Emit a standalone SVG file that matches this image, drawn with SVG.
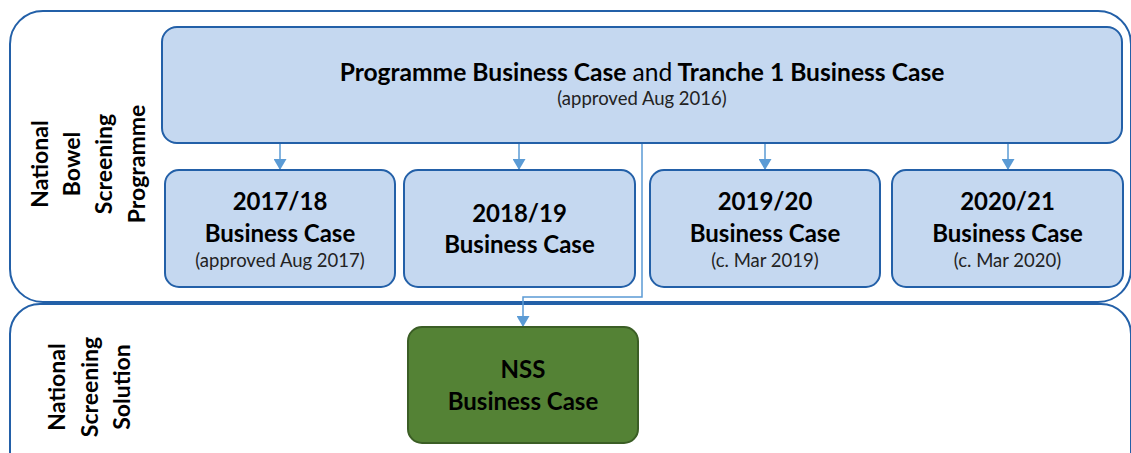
<svg xmlns="http://www.w3.org/2000/svg" width="1131" height="453" viewBox="0 0 1131 453">
  <style>
    .lane { fill: #ffffff; stroke: #2360a8; stroke-width: 2; }
    .box { fill: #c5d8f0; stroke: #2360a8; stroke-width: 2; }
    .nss { fill: #548235; stroke: #3b5e25; stroke-width: 2; }
    .conn { fill: none; stroke: #5b9bd5; stroke-width: 1.5; }
    text { font-family: Lato, "Open Sans", "Liberation Sans", sans-serif; fill: #000000; text-anchor: middle; }
    .big { font-size: 24px; font-weight: bold; }
    .title { font-size: 24.6px; font-weight: bold; }
    .small { font-size: 18.5px; fill: #222222; }
    .side { font-size: 23px; font-weight: bold; }
  </style>
  <defs>
    <marker id="arrow" viewBox="0 0 11 13" refX="11" refY="6.5" markerWidth="11" markerHeight="13" markerUnits="userSpaceOnUse" orient="auto">
      <path d="M0,0 L11,6.5 L0,13 Z" fill="#5b9bd5"/>
    </marker>
  </defs>

  <!-- swimlanes -->
  <g id="lane-nbsp">
    <rect class="lane" x="10" y="11" width="1121" height="291" rx="33" ry="33"/>
    <text class="side" transform="translate(48,164) rotate(-90)">National</text>
    <text class="side" transform="translate(80,164) rotate(-90)">Bowel</text>
    <text class="side" transform="translate(112,164) rotate(-90)">Screening</text>
    <text class="side" transform="translate(145,164) rotate(-90)">Programme</text>
  </g>
  <g id="lane-nss">
    <rect class="lane" x="10" y="304" width="1121" height="200" rx="30" ry="30"/>
    <text class="side" transform="translate(65,387) rotate(-90)">National</text>
    <text class="side" transform="translate(98,387) rotate(-90)">Screening</text>
    <text class="side" transform="translate(130,387) rotate(-90)">Solution</text>
  </g>

  <!-- connectors -->
  <g id="connectors">
    <line class="conn" x1="280" y1="143" x2="280" y2="170" marker-end="url(#arrow)"/>
    <line class="conn" x1="519" y1="143" x2="519" y2="170" marker-end="url(#arrow)"/>
    <line class="conn" x1="765" y1="143" x2="765" y2="170" marker-end="url(#arrow)"/>
    <line class="conn" x1="1008" y1="143" x2="1008" y2="170" marker-end="url(#arrow)"/>
    <polyline class="conn" points="642,143 642,297 523,297 523,327" marker-end="url(#arrow)"/>
  </g>

  <!-- programme business case -->
  <g id="node-programme">
    <rect class="box" x="162" y="27" width="960" height="116" rx="15" ry="15"/>
    <text x="642" y="81" class="title">Programme Business Case <tspan font-weight="normal">and</tspan> Tranche 1 Business Case</text>
    <text x="642" y="105" class="small">(approved Aug 2016)</text>
  </g>

  <!-- annual business cases -->
  <g id="node-2017">
    <rect class="box" x="165" y="170" width="230" height="117" rx="14" ry="14"/>
    <text x="280" y="210" class="big">2017/18</text>
    <text x="280" y="242" class="big">Business Case</text>
    <text x="280" y="267" class="small">(approved Aug 2017)</text>
  </g>
  <g id="node-2018">
    <rect class="box" x="404" y="170" width="231" height="117" rx="14" ry="14"/>
    <text x="519.5" y="222" class="big">2018/19</text>
    <text x="519.5" y="253" class="big">Business Case</text>
  </g>
  <g id="node-2019">
    <rect class="box" x="650" y="170" width="230" height="117" rx="14" ry="14"/>
    <text x="765" y="210" class="big">2019/20</text>
    <text x="765" y="242" class="big">Business Case</text>
    <text x="765" y="267" class="small">(c. Mar 2019)</text>
  </g>
  <g id="node-2020">
    <rect class="box" x="892" y="170" width="231" height="117" rx="14" ry="14"/>
    <text x="1007.5" y="210" class="big">2020/21</text>
    <text x="1007.5" y="242" class="big">Business Case</text>
    <text x="1007.5" y="267" class="small">(c. Mar 2020)</text>
  </g>

  <!-- national screening solution -->
  <g id="node-nss">
    <rect class="nss" x="408" y="327" width="230" height="116" rx="14" ry="14"/>
    <text x="523" y="378" class="big">NSS</text>
    <text x="523" y="410" class="big">Business Case</text>
  </g>
</svg>
